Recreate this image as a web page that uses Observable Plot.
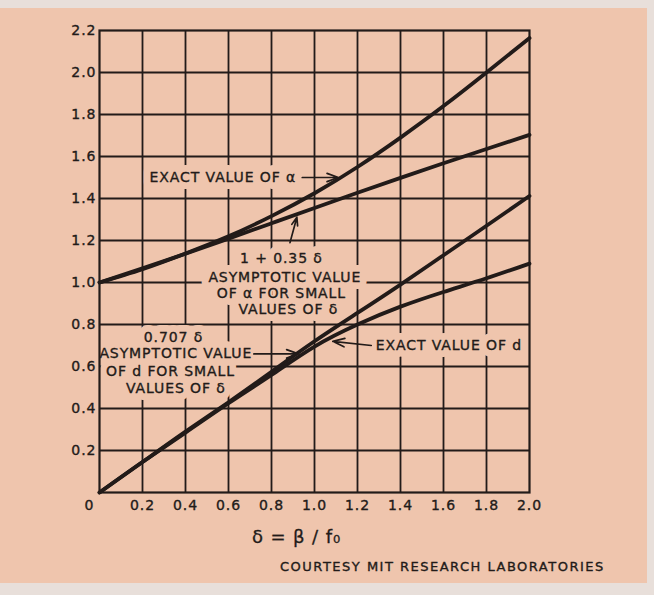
<!DOCTYPE html>
<html>
<head>
<meta charset="utf-8">
<script src="https://cdn.jsdelivr.net/npm/d3@7"></script>
<script src="https://cdn.jsdelivr.net/npm/@observablehq/plot@0.6"></script>
<style>
  html, body { margin: 0; padding: 0; width: 654px; height: 595px; overflow: hidden; background: #efc5ad; }
  #wrap { position: relative; width: 654px; height: 595px; }
  .strip { position: absolute; background: #e8dfda; }
  #chart { position: absolute; left: 0; top: 0; }
  #caption { position: absolute; left: 280px; top: 559px; font: 13px "DejaVu Sans", sans-serif; letter-spacing: 1.5px; color: #221b19; white-space: nowrap; -webkit-text-stroke: 0.35px #221b19; }
  #chart svg g[aria-label="y-axis tick label"] text,
  #chart svg g[aria-label="x-axis tick label"] text { stroke: #221b19; stroke-width: 0.35px; letter-spacing: 1px; }
  #chart svg text { letter-spacing: 0.9px; }
</style>
</head>
<body>
<div id="wrap">
  <div class="strip" style="left:0;top:0;width:654px;height:8px"></div>
  <div class="strip" style="left:0;top:583px;width:654px;height:12px"></div>
  <div class="strip" style="left:647px;top:0;width:7px;height:595px"></div>
  <div id="chart"></div>
  <div id="caption">COURTESY MIT RESEARCH LABORATORIES</div>
</div>
<script>
// ---- data ----
const delta = [0, 0.2, 0.4, 0.6, 0.8, 1.0, 1.2, 1.4, 1.6, 1.8, 2.0];
const alphaExact = [1.0, 1.063, 1.138, 1.22, 1.316, 1.425, 1.55, 1.69, 1.84, 2.0, 2.164];
const alphaAsym  = [1.0, 1.067, 1.137, 1.209, 1.282, 1.355, 1.427, 1.498, 1.568, 1.636, 1.703];
const dAsym      = [0.0, 0.145, 0.29, 0.43, 0.575, 0.72, 0.855, 0.99, 1.13, 1.27, 1.412];
const dExact     = [0.0, 0.145, 0.285, 0.425, 0.56, 0.695, 0.80, 0.885, 0.955, 1.02, 1.09];

const xTicks = [0, 0.2, 0.4, 0.6, 0.8, 1.0, 1.2, 1.4, 1.6, 1.8, 2.0];
const xTickLabels = ["0", "0.2", "0.4", "0.6", "0.8", "1.0", "1.2", "1.4", "1.6", "1.8", "2.0"];
const yTicks = [0.2, 0.4, 0.6, 0.8, 1.0, 1.2, 1.4, 1.6, 1.8, 2.0, 2.2];
const yTickLabels = ["0.2", "0.4", "0.6", "0.8", "1.0", "1.2", "1.4", "1.6", "1.8", "2.0", "2.2"];

const seriesNames = ["Exact value of α", "1 + 0.35δ", "0.707δ", "Exact value of d"];
const seriesValues = [alphaExact, alphaAsym, dAsym, dExact];

// annotation texts, anchored in data units
const labelText = ["EXACT VALUE OF α", "1 + 0.35 δ", "ASYMPTOTIC VALUE", "OF α FOR SMALL", "VALUES OF δ",
                   "0.707 δ", "ASYMPTOTIC VALUE", "OF d FOR SMALL", "VALUES OF δ", "EXACT VALUE OF d"];
const labelX = [0.915, 0.846, 0.862, 0.846, 0.878, 0.344, 0.355, 0.330, 0.355, 1.285];
const labelY = [1.50, 1.113, 1.025, 0.946, 0.870, 0.737, 0.660, 0.576, 0.494, 0.70];
const labelAnchor = ["end", "middle", "middle", "middle", "middle", "middle", "middle", "middle", "middle", "start"];

// arrows: from -> to
const arrowX1 = [0.943, 0.886, 0.718, 1.264];
const arrowY1 = [1.50, 1.19, 0.660, 0.70];
const arrowX2 = [1.111, 0.918, 0.925, 1.085];
const arrowY2 = [1.50, 1.311, 0.660, 0.72];

// ---- build tables ----
const rows = seriesNames.flatMap((name, s) => delta.map((x, i) => ({series: name, x, y: seriesValues[s][i]})));
const labels = labelText.map((text, i) => ({text, x: labelX[i], y: labelY[i], anchor: labelAnchor[i]}));
const arrows = arrowX1.map((x1, i) => ({x1, y1: arrowY1[i], x2: arrowX2[i], y2: arrowY2[i]}));

const ink = "#221b19";
const bg = "#efc5ad";
const labelFont = "DejaVu Sans";

function haloMark(anchor) {
  return Plot.text(labels.filter(d => d.anchor === anchor), {
    x: "x", y: "y", text: "text", textAnchor: anchor,
    fill: bg, stroke: bg, strokeWidth: 14, strokeLinejoin: "round",
    fontSize: 14, fontFamily: labelFont
  });
}
function textMark(anchor) {
  return Plot.text(labels.filter(d => d.anchor === anchor), {
    x: "x", y: "y", text: "text", textAnchor: anchor,
    fill: ink, stroke: ink, strokeWidth: 0.35,
    fontSize: 14, fontFamily: labelFont
  });
}

const chart = Plot.plot({
  width: 654,
  height: 595,
  marginLeft: 99,
  marginRight: 125,
  marginTop: 30,
  marginBottom: 103,
  x: {domain: [0, 2], label: null},
  y: {domain: [0, 2.2], label: null},
  style: {background: "transparent", color: ink, fontFamily: "DejaVu Sans", fontSize: "14px"},
  marks: [
    Plot.gridX(xTicks.slice(1, -1), {stroke: ink, strokeOpacity: 1, strokeWidth: 1.8}),
    Plot.gridY(yTicks.slice(0, -1), {stroke: ink, strokeOpacity: 1, strokeWidth: 1.8}),
    haloMark("middle"), haloMark("end"), haloMark("start"),
    textMark("middle"), textMark("end"), textMark("start"),
    Plot.frame({stroke: ink, strokeWidth: 2.2}),
    Plot.line(rows, {x: "x", y: "y", z: "series", stroke: ink, strokeWidth: 3.8, curve: "natural"}),
    Plot.arrow(arrows, {x1: "x1", y1: "y1", x2: "x2", y2: "y2", stroke: ink, strokeWidth: 1.7, headLength: 11, headAngle: 40}),
    Plot.axisY(yTicks, {tickSize: 0, tickPadding: 3, tickFormat: d => yTickLabels[yTicks.indexOf(d)], fontSize: 14, label: null}),
    Plot.axisX(xTicks.slice(1), {tickSize: 0, tickPadding: 8, tickFormat: d => xTickLabels[xTicks.indexOf(d)], fontSize: 14, label: null}),
    Plot.axisX(xTicks.slice(0, 1), {tickSize: 0, tickPadding: 8, dx: -10, tickFormat: d => xTickLabels[xTicks.indexOf(d)], fontSize: 14, label: null}),
    Plot.text(["δ = β / f₀"], {frameAnchor: "bottom", dx: -18, dy: 50, fontSize: 18, fill: ink, stroke: ink, strokeWidth: 0.3, fontFamily: "DejaVu Sans"})
  ]
});
document.getElementById("chart").appendChild(chart);
</script>
</body>
</html>
